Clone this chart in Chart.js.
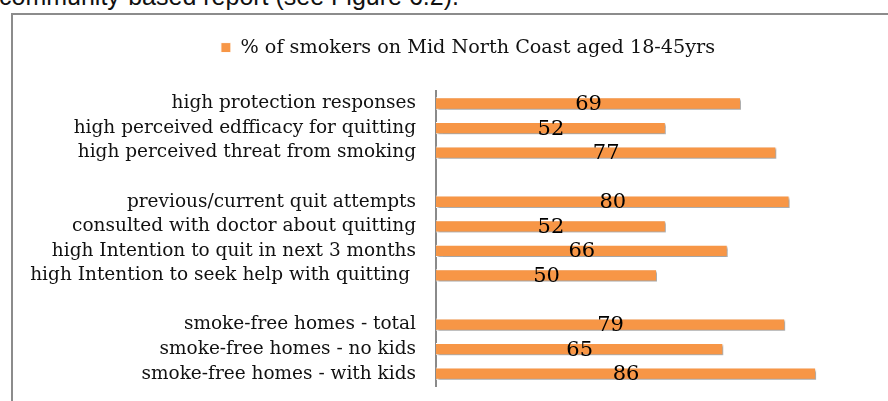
<!DOCTYPE html>
<html lang="en">
<head>
<meta charset="UTF-8">
<title>smokers on Mid North Coast</title>
<script src="https://cdn.jsdelivr.net/npm/chart.js"></script>
<style>
  html, body { margin: 0; padding: 0; background: #fff; overflow: hidden; }
  #page { position: relative; width: 888px; height: 401px; }
  #topText { position: absolute; left: -1px; top: -16px; font: 25px "Liberation Sans", Arial, sans-serif; line-height: 25px; color: #111; white-space: nowrap; }
  #frame { position: absolute; left: 11px; top: 13px; width: 900px; height: 420px; border: 2px solid #8c8c8c; box-sizing: border-box; }
  #myChart { position: absolute; left: 0; top: 0; }
</style>
</head>
<body>
<div id="page">
  <div id="topText">community-based report (see Figure 6.2).</div>
  <div id="frame"></div>
  <canvas id="myChart" width="888" height="401"></canvas>
</div>

<script>
const categorias = [
  "high protection responses",
  "high perceived edfficacy for quitting",
  "high perceived threat from smoking",
  "",
  "previous/current quit attempts",
  "consulted with doctor about quitting",
  "high Intention to quit in next 3 months",
  "high Intention to seek help with quitting ",
  "",
  "smoke-free homes - total",
  "smoke-free homes - no kids",
  "smoke-free homes - with kids"
];
const valores = [69, 52, 77, null, 80, 52, 66, 50, null, 79, 65, 86];
const serieNombre = "% of smokers on Mid North Coast aged 18-45yrs";

const fuenteSerif = '"DejaVu Serif", "Liberation Serif", serif';

// espacio extra debajo de la leyenda y corrimiento a la derecha
const ajusteLeyenda = {
  id: "ajusteLeyenda",
  beforeInit(chart) {
    const fitOriginal = chart.legend.fit;
    chart.legend.fit = function () {
      fitOriginal.bind(chart.legend)();
      this.height += 24;
    };
  },
  afterLayout(chart) {
    chart.legend.left += 29;
    chart.legend.right += 29;
  }
};

// sombra suave debajo de las barras
const sombraBarras = {
  id: "sombraBarras",
  beforeDatasetsDraw(chart) {
    const ctx = chart.ctx;
    ctx.save();
    ctx.shadowColor = "rgba(0,0,0,0.35)";
    ctx.shadowOffsetX = 2;
    ctx.shadowOffsetY = 2;
    ctx.shadowBlur = 2;
  },
  afterDatasetsDraw(chart) {
    chart.ctx.restore();
  }
};

// valores en el centro de cada barra
const etiquetasValor = {
  id: "etiquetasValor",
  afterDatasetsDraw(chart) {
    const ctx = chart.ctx;
    const meta = chart.getDatasetMeta(0);
    ctx.save();
    ctx.font = "21px " + fuenteSerif;
    ctx.fillStyle = "#000";
    ctx.textAlign = "center";
    ctx.textBaseline = "middle";
    meta.data.forEach((bar, i) => {
      const v = chart.data.datasets[0].data[i];
      if (v === null) return;
      ctx.fillText(String(v), (bar.base + bar.x) / 2, bar.y + 1);
    });
    ctx.restore();
  }
};

const ctx = document.getElementById("myChart").getContext("2d");
const chart = new Chart(ctx, {
  type: "bar",
  data: {
    labels: categorias,
    datasets: [{
      label: serieNombre,
      data: valores,
      backgroundColor: "#F79646",
      borderColor: "#ffffff",
      borderWidth: 1,
      barPercentage: 0.5,
      categoryPercentage: 1.0
    }]
  },
  options: {
    indexAxis: "y",
    responsive: false,
    animation: false,
    layout: { padding: { left: 0, right: 10, top: 30, bottom: 15 } },
    plugins: {
      legend: {
        position: "top",
        labels: {
          boxWidth: 10,
          boxHeight: 10,
          padding: 8,
          color: "#111",
          font: { family: fuenteSerif, size: 19.2 }
        }
      },
      tooltip: { enabled: false }
    },
    scales: {
      x: { display: false, min: 0, max: 100 },
      y: {
        grid: { display: false, drawTicks: false },
        border: { display: true, color: "#8a8a8a", width: 2 },
        ticks: {
          padding: 20,
          color: "#111",
          autoSkip: false,
          font: { family: fuenteSerif, size: 18.5 }
        },
        afterFit(scale) {
          scale.width = 436;
          scale.paddingTop = 0;
          scale.paddingBottom = 0;
        }
      }
    }
  },
  plugins: [ajusteLeyenda, sombraBarras, etiquetasValor]
});
</script>
</body>
</html>
